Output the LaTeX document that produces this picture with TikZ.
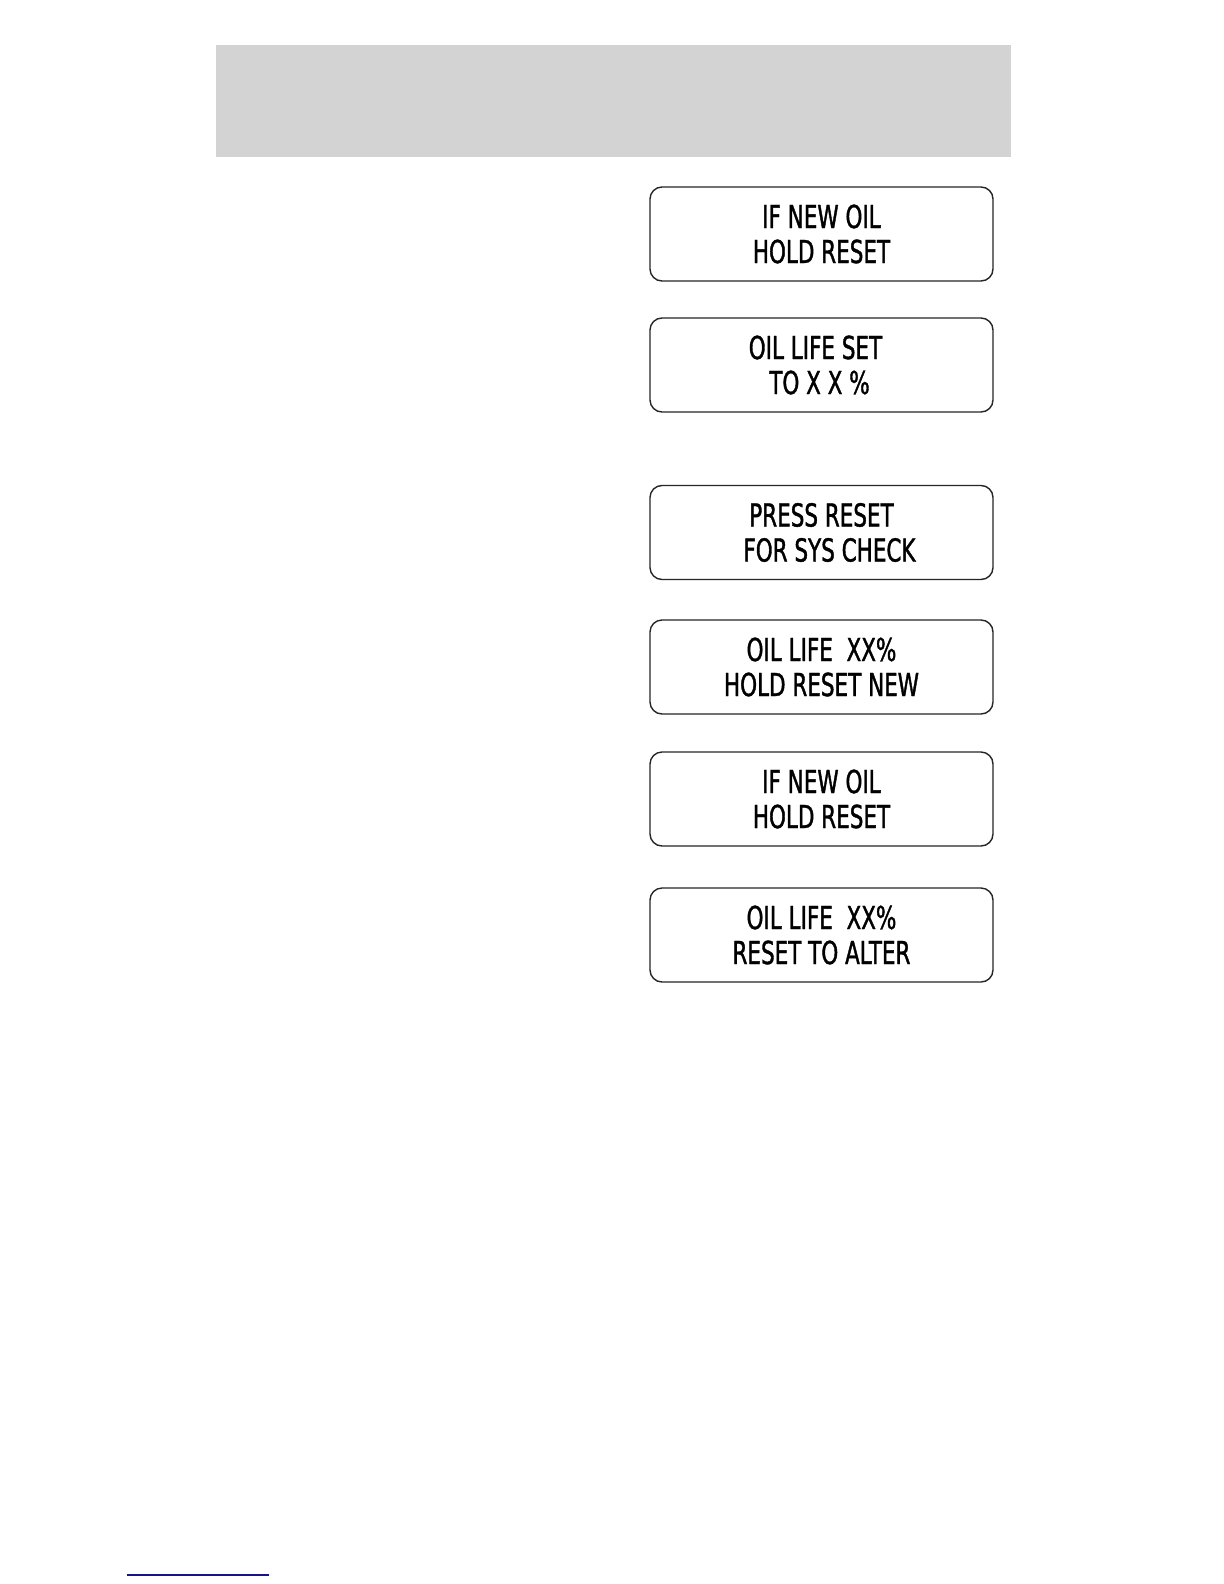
\documentclass[tikz,border=0pt]{standalone}
\usepackage{fontspec}
\newfontfamily\lcdfont[FakeStretch=0.68,FakeBold=1.2]{DejaVu Sans}
\usepackage{tikz}
\usetikzlibrary{positioning}
\definecolor{bandgray}{RGB}{211,211,211}
\definecolor{rulenavy}{RGB}{20,20,140}

\begin{document}
\begin{tikzpicture}[
  x=0.5pt, y=-0.5pt,
  lcd/.style={draw=black!85, line width=0.7pt, rounded corners=6pt,
              minimum width=171.5pt, minimum height=47pt, align=center,
              font=\lcdfont\fontsize{15.8}{17.5}\selectfont, inner sep=0pt},
  band/.style={fill=bandgray, draw=none}
]
\useasboundingbox (0,0) rectangle (1224,1584);
\fill[white] (0,0) rectangle (1224,1584);

% header band
\node[band, minimum width=397.5pt, minimum height=55.5pt, inner sep=0pt] (head) at (613.5,101) {};

% display messages
\node[lcd] (msgA) at (821.5,234)   {IF NEW OIL\\HOLD RESET};
\node[lcd] (msgB) at (821.5,365)   {OIL LIFE SET\hspace*{6pt}\\TO X X \%\hspace*{2pt}};
\node[lcd] (msgC) at (821.5,532.5) {PRESS RESET\\\hspace*{8pt}FOR SYS CHECK};
\node[lcd] (msgD) at (821.5,667)   {OIL LIFE \ XX\%\\HOLD RESET NEW};
\node[lcd] (msgE) at (821.5,799)   {IF NEW OIL\\HOLD RESET};
\node[lcd] (msgF) at (821.5,935)   {OIL LIFE \ XX\%\\RESET TO ALTER};

% footer rule
\coordinate (ruleL) at (127,1575);
\coordinate (ruleR) at (269,1575);
\draw[rulenavy, line width=0.8pt] (ruleL) -- (ruleR);
\end{tikzpicture}
\end{document}
